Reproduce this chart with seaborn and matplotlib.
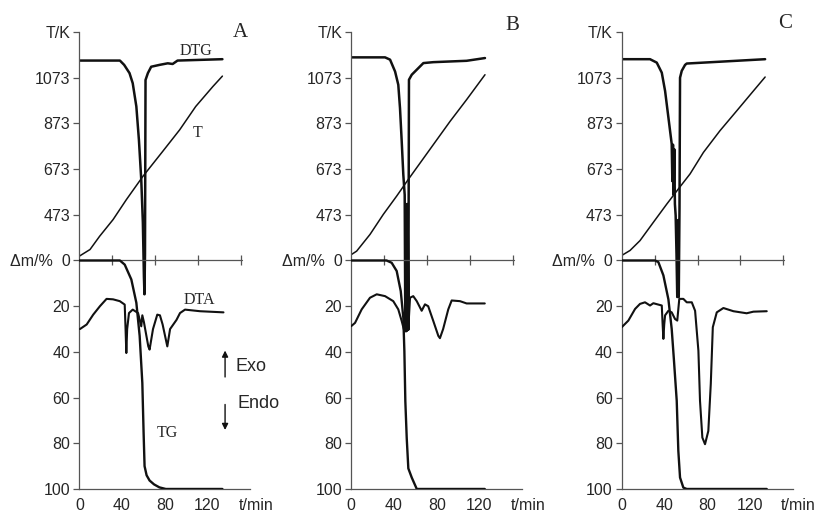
import numpy as np
import pandas as pd
import seaborn as sns
import matplotlib.pyplot as plt

sns.set_style("white")
plt.rcParams["font.family"] = ["Liberation Sans", "DejaVu Sans"]

# ---- panel A ----
a_t_temp = [0, 10, 19, 31.6, 44, 59.5, 78, 94, 109, 125, 134]
a_temp = [292, 321, 379, 452, 539, 641, 750, 845, 947, 1034, 1080]

a_t_dtg = [0, 38, 42, 47, 50, 53.4, 55.8, 58, 59.5, 60.5, 61, 61.5, 62, 64.2, 67.3, 75, 82.8, 87.4, 92, 134]
a_dtg = [1148, 1148, 1129, 1093, 1049, 947, 801, 627, 439, 200, 125, 300, 1063, 1093, 1121, 1129, 1136, 1133, 1148, 1154]

a_t_tg = [0, 38, 42.5, 48.7, 53.4, 56.5, 59, 60.2, 61.1, 63, 65.8, 70, 75, 81, 134]
a_tg = [0, 0, 1.8, 8.3, 18.5, 33, 53.6, 75.5, 90, 94, 96.3, 98, 99.3, 100, 100]

a_t_dta = [0.6, 6.9, 13, 19.3, 25.5, 31.6, 37.9, 42.5, 43.3, 44, 44.8, 46.5, 50, 55, 58, 59,
           60.5, 64.6, 65.8, 69, 73, 75.5, 78, 82.4, 85, 88, 91, 94.3, 99, 113, 135]
a_dta = [30, 28, 23.7, 20, 16.8, 17, 17.8, 19.3, 30, 40.5, 30, 23, 21.5, 23, 28.8, 24,
         27, 37.6, 39, 30, 23.7, 24, 28, 37.6, 30, 28, 26, 23, 21.5, 22.2, 22.7]

# ---- panel B ----
b_t_temp = [0.4, 5, 17.5, 30, 42.5, 53.4, 76.8, 92.5, 108, 125.2]
b_temp = [300, 314, 387, 475, 555, 628, 780, 882, 977, 1086]

b_t_dtg = [0, 31.6, 36.3, 41, 44, 45.6, 47.2, 48.7, 50.0, 50.6, 51.3, 52.0, 52.7, 53.4, 54.0,
           56.6, 61.3, 67.5, 76.8, 108, 125.2]
b_dtg = [1162, 1162, 1152, 1100, 1042, 940, 795, 649, 560, -30, 520, -35, 520, -30, 1064,
         1086, 1108, 1137, 1141, 1147, 1159]

b_t_tg = [0, 33, 37.8, 42.5, 46.3, 48.7, 49.7, 50.6, 51.9, 53.4, 56.6, 61.3, 125]
b_tg = [0, 0, 1, 4.6, 13.4, 25, 39.7, 61.6, 77.7, 91, 95, 100, 100]

b_t_dta = [0, 3.5, 9.7, 17.5, 23.8, 31.6, 39.3, 44, 47.2, 49.7, 51.5, 53.4, 55, 58, 61.3,
           65.9, 69, 72, 76.8, 81.5, 83, 86, 90.8, 94, 101.8, 108, 125]
b_dta = [28.7, 27.3, 21.4, 16.3, 14.8, 15.6, 17.8, 21.4, 26.5, 31, 31, 29.5, 16.3, 15.6, 17.8,
         22, 19.2, 20, 26.5, 33, 34, 30, 21.4, 17.5, 17.8, 18.8, 18.8]

# ---- panel C ----
c_t_temp = [0, 7.8, 17.1, 29.6, 42.2, 53, 64, 76.5, 92, 107.7, 123.3, 134.3]
c_temp = [295, 317, 360, 440, 520, 586, 652, 746, 841, 928, 1015, 1076]

c_t_dtg = [0, 26.5, 32.8, 37.5, 40.6, 43.7, 46.8, 47.4, 48.0, 48.6, 49.2, 49.8, 50.5, 51.3,
           52.0, 52.7, 53.4, 54.1, 54.6, 56.2, 59.3, 60.9, 92, 134.3]
c_dtg = [1154, 1154, 1139, 1095, 1015, 899, 783, 620, 780, 560, 760, 520, 470, 300,
         113, 450, 113, 500, 1073, 1103, 1129, 1135, 1143, 1154]

c_t_tg = [0, 31.2, 34.3, 39, 43.7, 46.8, 48.8, 51.5, 53, 54.6, 57.7, 60.9, 135.8]
c_tg = [0, 0, 0.7, 6.5, 17, 30, 43, 61.4, 83.3, 95, 99.4, 100, 100]

c_t_dta = [0, 6.2, 12.5, 17.1, 21.8, 26.5, 29.6, 34.3, 37.5, 38.3, 39, 39.8, 40.6, 43.7, 46.8,
           49.9, 52, 53.9, 57.7, 60.9, 65.6, 68.7, 71.8, 73.3, 75.5, 78, 81.1, 83.4, 85.3, 89,
           95.2, 104.6, 117, 123.3, 135.8]
c_dta = [29.2, 26.3, 21.2, 19, 18.3, 19.7, 18.7, 19.3, 19.7, 28, 34.3, 28, 24, 22, 22.7,
         25.6, 26.3, 16.8, 16.8, 18.3, 18.3, 22, 39.5, 61.4, 77.5, 80.4, 74.6, 54, 29.2, 22.7,
         20.8, 22.2, 23.1, 22.4, 22.2]

# axis ticks
temp_ticks = [473, 673, 873, 1073, 1273]
temp_labels = ["473", "673", "873", "1073", "T/K"]
mass_ticks = [0, 20, 40, 60, 80, 100]
mass_labels = ["\u0394m/%  0", "20", "40", "60", "80", "100"]
time_ticks = [0, 40, 80, 120, 160]
time_labels = ["0", "40", "80", "120", ""]
mid_ticks = [31, 71, 111, 151]

panels = [
    dict(name="A", left=0.0971, letter=(0.2938, 0.938),
         temp=(a_t_temp, a_temp), dtg=(a_t_dtg, a_dtg), tg=(a_t_tg, a_tg), dta=(a_t_dta, a_dta)),
    dict(name="B", left=0.4300, letter=(0.6267, 0.951),
         temp=(b_t_temp, b_temp), dtg=(b_t_dtg, b_dtg), tg=(b_t_tg, b_tg), dta=(b_t_dta, b_dta)),
    dict(name="C", left=0.7610, letter=(0.9608, 0.955),
         temp=(c_t_temp, c_temp), dtg=(c_t_dtg, c_dtg), tg=(c_t_tg, c_tg), dta=(c_t_dta, c_dta)),
]

ink = "#111111"
spine_col = "#555555"
serif = ["Liberation Serif", "DejaVu Serif"]

fig = plt.figure(figsize=(8.17, 5.17), dpi=100)

for p in panels:
    ax = fig.add_axes([p["left"], 0.0542, 0.2091, 0.8839])
    ax_m = ax.twinx()

    # upper half: temperature scale (T and DTG)
    sns.lineplot(x=p["temp"][0], y=p["temp"][1], ax=ax, color=ink, lw=1.1,
                 sort=False, estimator=None)
    sns.lineplot(x=p["dtg"][0], y=p["dtg"][1], ax=ax, color=ink, lw=1.8,
                 sort=False, estimator=None)
    # lower half: mass loss scale (TG and DTA)
    sns.lineplot(x=p["tg"][0], y=p["tg"][1], ax=ax_m, color=ink, lw=1.7,
                 sort=False, estimator=None)
    sns.lineplot(x=p["dta"][0], y=p["dta"][1], ax=ax_m, color=ink, lw=1.5,
                 sort=False, estimator=None)

    ax.set_xlim(0, 160)
    ax.set_ylim(-727, 1273)
    ax_m.set_ylim(100, -100)
    ax.set_xlabel("")
    ax.set_ylabel("")
    ax_m.set_ylabel("")

    # middle axis line with its ticks
    ax.axhline(273, xmin=0, xmax=152 / 160, color=spine_col, lw=0.9)
    ax.plot(mid_ticks, np.full(len(mid_ticks), 273), ls="none", marker="|",
            ms=7, mew=0.9, color=spine_col)

    for s in ["top", "right"]:
        ax.spines[s].set_visible(False)
    for s in ["top", "right", "bottom", "left"]:
        ax_m.spines[s].set_visible(False)
    for s in ["left", "bottom"]:
        ax.spines[s].set_color(spine_col)
        ax.spines[s].set_linewidth(0.9)

    ax.set_yticks(temp_ticks)
    ax.set_yticklabels(temp_labels)
    ax_m.yaxis.tick_left()
    ax_m.set_yticks(mass_ticks)
    ax_m.set_yticklabels(mass_labels)
    ax.set_xticks(time_ticks)
    ax.set_xticklabels(time_labels)

    for a in (ax, ax_m):
        a.tick_params(axis="y", direction="out", length=4, width=0.9, color=spine_col,
                      labelsize=11.5, pad=2.5, left=True, right=False)
    ax.tick_params(axis="x", direction="inout", length=7, width=0.9, color=spine_col,
                   labelsize=11.5, pad=3)

    ax.annotate("t/min", xy=(149, 0), xycoords=("data", "axes fraction"),
                xytext=(0, -12), textcoords="offset points", ha="left", va="center",
                fontsize=11.5)

    fig.text(p["letter"][0], p["letter"][1], p["name"], ha="center", va="center",
             fontsize=15, family=serif)

    if p["name"] == "A":
        ax.text(109, 1190, "DTG", ha="center", va="center", fontsize=11.5, family=serif)
        ax.text(111, 832, "T", ha="center", va="center", fontsize=11.5, family=serif)
        ax_m.text(112, 17.5, "DTA", ha="center", va="center", fontsize=11.5, family=serif)
        ax_m.text(82.6, 75.4, "TG", ha="center", va="center", fontsize=11.5, family=serif)
        ax_m.annotate("", xy=(136.5, 38.2), xytext=(136.5, 52.2),
                      arrowprops=dict(arrowstyle="-|>", color=ink, lw=1, mutation_scale=9))
        ax_m.annotate("", xy=(136.5, 75.4), xytext=(136.5, 61.8),
                      arrowprops=dict(arrowstyle="-|>", color=ink, lw=1, mutation_scale=9))
        ax_m.text(146, 46.5, "Exo", ha="left", va="center", fontsize=13, clip_on=False)
        ax_m.text(147.7, 62.7, "Endo", ha="left", va="center", fontsize=13, clip_on=False)

fig.savefig("out.png", dpi=100)
